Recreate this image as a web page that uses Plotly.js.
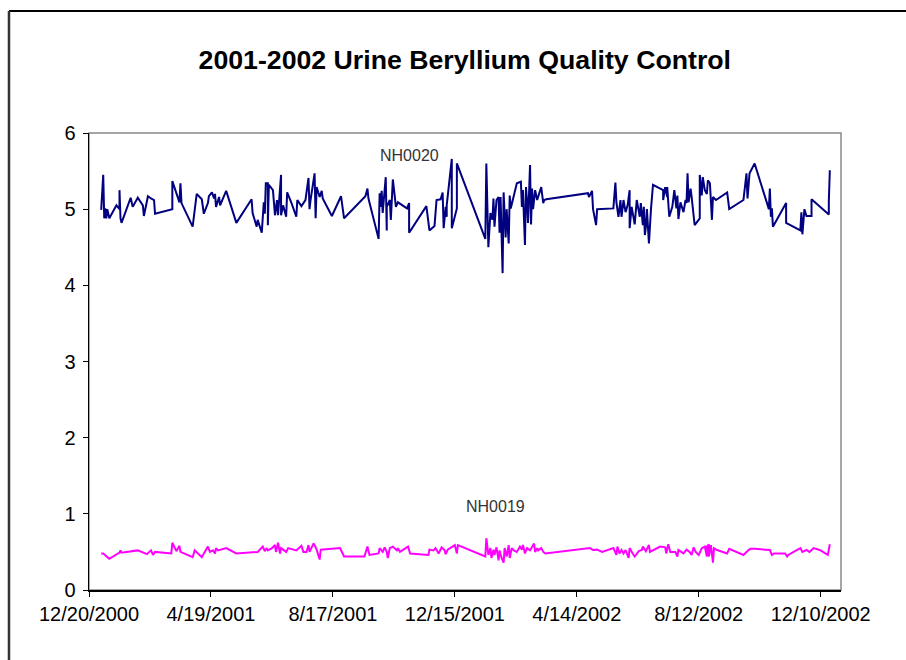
<!DOCTYPE html>
<html>
<head>
<meta charset="utf-8">
<script src="https://cdn.plot.ly/plotly-3.0.1.min.js"></script>
<style>
html,body{margin:0;padding:0;background:#fff;}
#chart{width:906px;height:660px;}
</style>
</head>
<body>
<div id="chart"></div>
<script>
// Days since 12/20/2000 for each sample
const startDate = Date.UTC(2000, 11, 20);

const nh0020Day = [12,14,15,16,17,18,20,27,30,30,31,32,41,43,48,53,54,58,61,64,65,82,82,86,89,90,91,102,106,111,113,117,118,121,123,124,125,128,129,135,145,160,161,165,166,170,171,172,173,174,176,176,177,181,183,185,186,188,189,189,191,194,195,199,204,205,209,213,216,217,218,222,223,224,227,229,230,239,248,251,272,274,275,285,286,287,288,289,292,293,293,296,297,299,300,302,304,313,315,315,332,335,340,342,346,348,349,351,352,352,357,357,362,362,390,391,393,395,397,398,399,401,403,404,405,407,408,410,411,413,414,415,421,425,426,427,429,430,431,432,434,435,436,437,439,441,445,447,448,450,491,492,495,496,499,500,516,518,519,521,523,524,526,528,530,532,532,534,537,539,542,543,545,546,547,548,549,551,553,555,565,565,567,569,569,571,574,576,578,579,580,582,585,587,588,589,590,592,593,596,601,601,603,604,606,608,609,611,613,614,617,628,630,644,647,648,650,655,669,670,671,672,673,686,686,700,701,702,704,706,711,711,728,728,729];
const nh0020Value = [4.99,5.45,4.88,5.01,4.88,5.00,4.88,5.05,5.00,5.25,4.88,4.82,5.15,5.03,5.15,5.05,4.91,5.17,5.14,5.12,4.94,5.00,5.37,5.21,5.09,5.34,5.08,4.77,5.20,5.13,4.94,5.08,5.17,5.22,5.14,5.20,5.03,5.16,5.05,5.24,4.82,5.13,4.95,4.77,4.86,4.69,4.94,5.09,4.94,5.34,5.34,4.79,5.32,5.25,4.92,5.12,4.92,5.34,5.45,4.92,5.05,4.90,5.22,5.09,4.90,5.12,5.04,5.12,5.41,5.00,5.12,5.47,4.88,5.29,5.16,5.24,5.14,4.91,5.17,4.88,5.17,5.27,5.14,4.61,5.21,5.03,5.24,4.95,5.42,4.72,5.03,5.12,4.86,5.39,5.27,5.03,5.09,5.01,5.08,4.69,5.04,4.72,4.78,5.12,5.13,5.22,4.75,5.03,4.90,5.05,5.66,4.75,5.01,5.60,4.61,5.60,4.50,4.95,4.86,5.14,4.77,5.12,5.16,4.69,5.16,4.16,5.22,4.63,5.00,4.55,5.18,5.01,5.34,5.36,5.03,5.25,4.53,5.29,5.12,4.82,5.58,4.80,5.27,5.00,5.25,5.12,5.29,5.08,5.12,5.13,5.21,5.16,5.24,5.00,4.79,5.00,5.01,5.35,5.09,4.90,5.12,4.90,5.12,4.96,5.05,5.25,4.75,5.03,4.80,5.12,4.90,5.08,4.79,5.03,4.66,4.77,5.00,4.55,5.00,5.32,5.25,5.12,5.29,5.16,5.29,4.90,5.03,5.25,5.01,5.18,4.87,5.09,4.96,5.12,5.08,5.47,5.09,5.27,5.16,4.79,4.88,5.45,5.18,5.42,5.25,5.20,5.38,5.34,4.86,5.16,5.12,5.22,5.00,5.12,5.47,5.14,5.47,5.60,5.00,5.27,4.90,5.01,4.77,5.08,4.82,4.72,4.96,4.67,5.00,4.91,4.91,5.13,4.93,5.10,5.51];

const nh0019Day = [12,14,20,30,31,32,48,57,61,63,65,81,82,86,89,90,102,104,111,117,119,122,124,125,127,135,145,166,171,173,175,176,180,183,184,186,188,189,194,196,204,209,211,214,216,217,221,222,224,227,228,247,251,271,274,276,285,286,289,291,293,294,296,299,303,304,306,314,316,334,335,339,341,344,347,350,351,353,360,362,363,390,391,393,395,396,398,399,401,403,404,406,408,409,411,413,414,416,418,421,424,426,427,429,431,434,438,439,441,442,445,447,449,490,493,496,500,505,516,519,520,522,524,526,528,531,532,535,537,541,544,545,548,551,552,562,567,568,570,572,577,579,580,585,588,591,593,595,597,600,603,606,608,608,610,610,612,614,615,618,628,630,644,649,651,655,670,672,674,685,687,688,700,702,706,709,713,719,727,729];
const nh0019Value = [0.48,0.48,0.41,0.49,0.52,0.49,0.52,0.47,0.52,0.46,0.50,0.48,0.62,0.51,0.58,0.50,0.43,0.52,0.43,0.57,0.50,0.52,0.48,0.55,0.52,0.55,0.48,0.50,0.57,0.51,0.55,0.52,0.55,0.59,0.50,0.62,0.48,0.55,0.50,0.55,0.52,0.58,0.50,0.50,0.59,0.50,0.61,0.59,0.53,0.40,0.53,0.55,0.44,0.44,0.57,0.46,0.48,0.55,0.50,0.56,0.50,0.42,0.55,0.57,0.52,0.55,0.50,0.57,0.48,0.46,0.53,0.52,0.55,0.48,0.56,0.52,0.47,0.53,0.59,0.48,0.59,0.44,0.68,0.46,0.55,0.42,0.53,0.46,0.56,0.39,0.52,0.42,0.36,0.55,0.44,0.59,0.42,0.55,0.52,0.50,0.57,0.53,0.59,0.48,0.55,0.52,0.61,0.50,0.55,0.52,0.55,0.50,0.48,0.55,0.55,0.525,0.53,0.50,0.55,0.46,0.57,0.48,0.525,0.48,0.525,0.42,0.55,0.48,0.44,0.51,0.525,0.57,0.51,0.59,0.50,0.57,0.56,0.48,0.60,0.50,0.50,0.44,0.525,0.48,0.53,0.50,0.46,0.56,0.50,0.46,0.55,0.57,0.44,0.57,0.60,0.44,0.59,0.36,0.55,0.525,0.48,0.54,0.46,0.525,0.54,0.54,0.525,0.46,0.48,0.48,0.44,0.46,0.55,0.50,0.525,0.50,0.55,0.525,0.46,0.60];

const tickDates = ['2000-12-20','2001-04-19','2001-08-17','2001-12-15','2002-04-14','2002-08-12','2002-12-10'];
const tickLabels = ['12/20/2000','4/19/2001','8/17/2001','12/15/2001','4/14/2002','8/12/2002','12/10/2002'];
const yTicks = [0,1,2,3,4,5,6];

function toDate(d){ return new Date(startDate + d*86400000).toISOString().slice(0,10); }

const font = 'Liberation Sans, Arial, sans-serif';

const traces = [
  {x: nh0020Day.map(toDate), y: nh0020Value, mode:'lines', type:'scatter', name:'NH0020',
   line:{color:'#000080', width:2}},
  {x: nh0019Day.map(toDate), y: nh0019Value, mode:'lines', type:'scatter', name:'NH0019',
   line:{color:'#FF00FF', width:2}}
];

const layout = {
  width:906, height:660,
  margin:{l:89, r:65, t:133, b:70, pad:0},
  paper_bgcolor:'#fff', plot_bgcolor:'#fff',
  showlegend:false,
  title:{text:'<b>2001-2002 Urine Beryllium Quality Control</b>', font:{family:font, size:26.7, color:'#000'},
         x:0.513, xanchor:'center', y:0.909, yanchor:'middle'},
  xaxis:{type:'date', range:['2000-12-20','2002-12-30'], tickvals:tickDates, ticktext:tickLabels,
         showgrid:false, zeroline:false, showline:true, linecolor:'#000', linewidth:1.5,
         ticks:'outside', ticklen:5, tickcolor:'#000', tickwidth:1,
         tickfont:{family:font, size:20, color:'#000'}},
  yaxis:{range:[0,6], tickvals:yTicks, showgrid:false, zeroline:false, showline:true,
         linecolor:'#000', linewidth:1.5, ticks:'outside', ticklen:5, tickcolor:'#000', tickwidth:1,
         ticklabelstandoff:3,
         tickfont:{family:font, size:20, color:'#000'}},
  shapes:[
    {type:'rect', xref:'paper', yref:'paper', x0:0, x1:1, y0:0, y1:1, line:{color:'#888', width:1.5}, layer:'below'},
    {type:'line', xref:'paper', yref:'paper', x0:-0.1064, x1:1.2, y0:1.267, y1:1.267, line:{color:'#000', width:2}},
    {type:'line', xref:'paper', yref:'paper', x0:-0.1064, x1:-0.1064, y0:1.267, y1:-0.3, line:{color:'#333', width:2.5}}
  ],
  annotations:[
    {x:toDate(315), y:5.71, xref:'x', yref:'y', text:'NH0020', showarrow:false,
     font:{family:font, size:16, color:'#333'}},
    {x:toDate(400), y:1.09, xref:'x', yref:'y', text:'NH0019', showarrow:false,
     font:{family:font, size:16, color:'#333'}}
  ]
};

Plotly.newPlot('chart', traces, layout, {staticPlot:true, displayModeBar:false});
</script>
</body>
</html>
